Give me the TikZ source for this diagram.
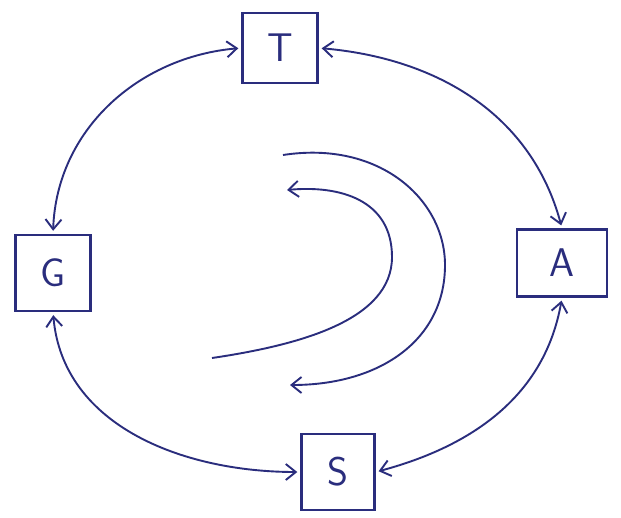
\documentclass[tikz,border=0pt]{standalone}
\usetikzlibrary{arrows.meta}
\definecolor{ink}{RGB}{42,45,125}
\begin{document}
\begin{tikzpicture}[x=1pt,y=-1pt,
  box/.style={draw=ink,line width=2.4pt,text=ink,inner sep=0pt,
    font=\sffamily\fontsize{40}{44}\selectfont},
  link/.style={draw=ink,line width=1.9pt,{Straight Barb[length=10pt,width=16pt]}-{Straight Barb[length=10pt,width=16pt]},shorten <=3pt,shorten >=3pt},
  flow/.style={draw=ink,line width=1.9pt,-{Straight Barb[length=10pt,width=16pt]}}]
\useasboundingbox[fill=white] (0,0) rectangle (621,517);
\node[box,minimum width=75pt,minimum height=70pt] (T) at (280,48) {T};
\node[box,minimum width=75pt,minimum height=76pt] (G) at (53,273) {G};
\node[box,minimum width=90pt,minimum height=67pt] (A) at (562,263) {A};
\node[box,minimum width=73pt,minimum height=76pt] (S) at (338,472) {S};
\draw[link] (T.west) to[out=185,in=88] (G.north);
\draw[link] (T.east) to[out=-5,in=105] (A.north);
\draw[link] (G.south) to[out=-85,in=180] (S.west);
\draw[link] (A.south) to[out=-100,in=15] (S.east);
\coordinate (o1) at (283,155);
\coordinate (o2) at (290,385);
\coordinate (i1) at (212,358);
\coordinate (i2) at (287,190);
\draw[flow] (o1) .. controls (380,140) and (445,200) .. (445,265)
  .. controls (445,340) and (380,385) .. (o2);
\draw[flow] (i1) .. controls (300,345) and (392,320) .. (392,257)
  .. controls (392,200) and (340,185) .. (i2);
\end{tikzpicture}
\end{document}
